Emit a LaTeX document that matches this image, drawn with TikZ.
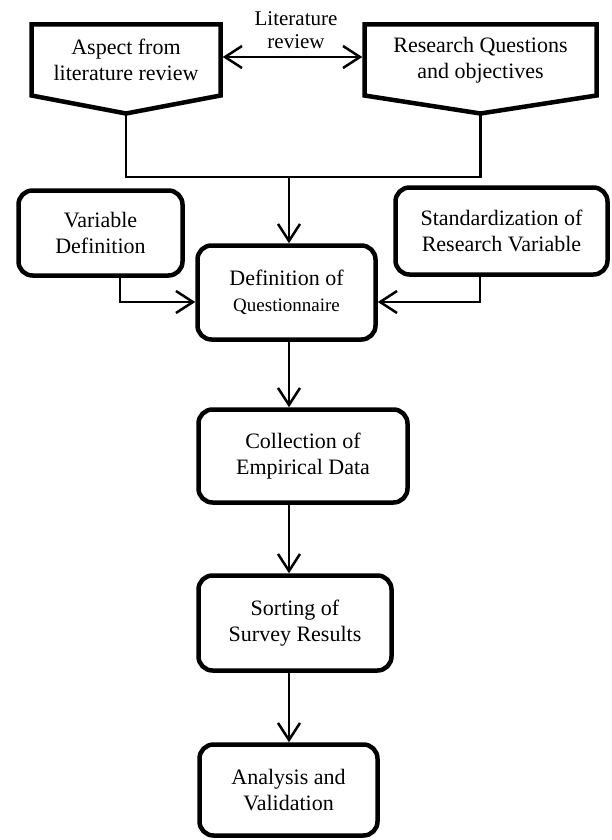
\documentclass[tikz,border=0pt]{standalone}
\usepackage{fontspec}
\setmainfont{Liberation Serif}
\usetikzlibrary{arrows.meta,calc}

\begin{document}
\begin{tikzpicture}[x=1pt, y=-1pt,
        stepbox/.style={draw, line width=4.5pt, rounded corners=14pt, align=center,
            inner sep=0pt, font=\fontsize{22}{26}\selectfont},
        tagbox/.style={align=center, inner sep=0pt, outer sep=0pt,
            font=\fontsize{22}{26}\selectfont},
        tagline/.style={line width=4.5pt, line join=miter},
        link/.style={line width=2.5pt},
        flow/.style={link, -{Straight Barb[length=17pt, width=22pt]}},
        twoway/.style={link, {Straight Barb[length=17pt, width=22pt]}-{Straight Barb[length=17pt, width=22pt]},
            shorten <=2.2pt, shorten >=2.2pt}]
        \useasboundingbox (0,0) rectangle (611,840);

        % sources
        \node[tagbox, minimum width=189pt, minimum height=71pt] (aspect) at (126,60) {Aspect from\\literature review};
        \node[tagbox, minimum width=232pt, minimum height=71pt] (research) at (480.5,60) {Research Questions\\and objectives};
        \coordinate (aspecttip) at ($(aspect.south)+(0,18)$);
        \coordinate (researchtip) at ($(research.south)+(0,18)$);
        \draw[tagline] (aspect.south west) -- (aspect.north west) -- (aspect.north east) -- (aspect.south east) -- (aspecttip) -- cycle;
        \draw[tagline] (research.south west) -- (research.north west) -- (research.north east) -- (research.south east) -- (researchtip) -- cycle;

        % literature review link
        \node[align=center, inner sep=0pt, font=\fontsize{21}{23}\selectfont] (litlabel) at (296,30) {Literature\\review};
        \draw[twoway] ([yshift=3pt]aspect.east) -- ([yshift=3pt]research.west);

        % steps
        \node[stepbox, minimum width=164pt, minimum height=85pt] (vardef) at (100.5,233) {Variable\\Definition};
        \node[stepbox, minimum width=212pt, minimum height=87pt] (stand) at (501.5,231) {Standardization of\\Research Variable};
        \node[stepbox, minimum width=178pt, minimum height=94pt] (quest) at (286.5,292.5) {Definition of\\{\fontsize{19}{22}\selectfont Questionnaire}};
        \node[stepbox, minimum width=209pt, minimum height=93pt] (collect) at (303,456) {Collection of\\Empirical Data};
        \node[stepbox, minimum width=193pt, minimum height=95pt] (sort) at (295,623) {Sorting of\\Survey Results};
        \node[stepbox, minimum width=178pt, minimum height=91pt] (analysis) at (288.5,790) {Analysis and\\Validation};

        % joining the sources
        \coordinate (join) at (289,177);
        \draw[link] (aspecttip) |- (join) -| (researchtip);
        \draw[flow] (join) -- (join |- quest.north);

        % side inputs
        \draw[flow] ([xshift=19.5pt]vardef.south) |- ([yshift=-9.5pt]quest.west);
        \draw[flow] ([xshift=-21.5pt]stand.south) |- ([yshift=-9.5pt]quest.east);

        % main column
        \draw[flow] (quest.south -| join) -- (collect.north -| join);
        \draw[flow] (collect.south -| join) -- (sort.north -| join);
        \draw[flow] (sort.south -| join) -- (analysis.north -| join);
    \end{tikzpicture}
\end{document}
